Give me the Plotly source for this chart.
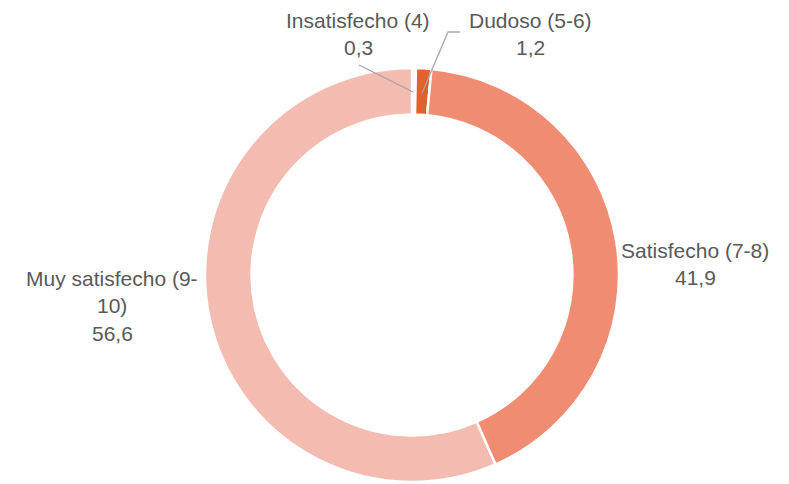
import plotly.graph_objects as go

W, H = 789, 484
OFF = 8  # page body margin offset

categories = ["Insatisfecho (4)", "Dudoso (5-6)", "Satisfecho (7-8)", "Muy satisfecho (9-10)"]
values = [0.3, 1.2, 41.9, 56.6]
value_labels = ["0,3", "1,2", "41,9", "56,6"]
colors = ["#FDF1EC", "#E0622F", "#F08C72", "#F4BBB0"]

def px(x):
    return (x - OFF) / W

def py(y):
    return 1 - (y - OFF) / H

fig = go.Figure(go.Pie(
    labels=categories,
    values=values,
    hole=0.775,
    sort=False,
    direction="clockwise",
    rotation=0,
    marker=dict(colors=colors, line=dict(color="white", width=2.5)),
    textinfo="none",
    hoverinfo="label+value",
    domain=dict(x=[px(205), px(619)], y=[py(482), py(68)]),
    showlegend=False,
))

font = dict(family="Liberation Sans, Arial, sans-serif", size=21, color="#595959")

label_layout = [
    ([categories[0], value_labels[0]], 358, 20),
    ([categories[1], value_labels[1]], 530, 20),
    ([categories[2], value_labels[2]], 695, 250),
    (["Muy satisfecho (9-", "10)", value_labels[3]], 112, 278),
]
annotations = []
for lines, cx, y0 in label_layout:
    for i, t in enumerate(lines):
        annotations.append(dict(
            text=t, x=px(cx), y=py(y0 + i * 27.5), xref="paper", yref="paper",
            showarrow=False, xanchor="center", yanchor="middle", font=font))

line_style = dict(color="#A6A6A6", width=1.3)
shapes = [
    dict(type="line", xref="paper", yref="paper",
         x0=px(359), y0=py(65), x1=px(413), y1=py(92), line=line_style),
    dict(type="path", xref="paper", yref="paper",
         path=f"M {px(460)},{py(32)} L {px(448)},{py(32)} L {px(422)},{py(93)}",
         line=line_style),
]

fig.update_layout(
    width=W, height=H,
    margin=dict(l=0, r=0, t=0, b=0),
    paper_bgcolor="white", plot_bgcolor="white",
    annotations=annotations, shapes=shapes,
)

fig.write_html("out.html")
